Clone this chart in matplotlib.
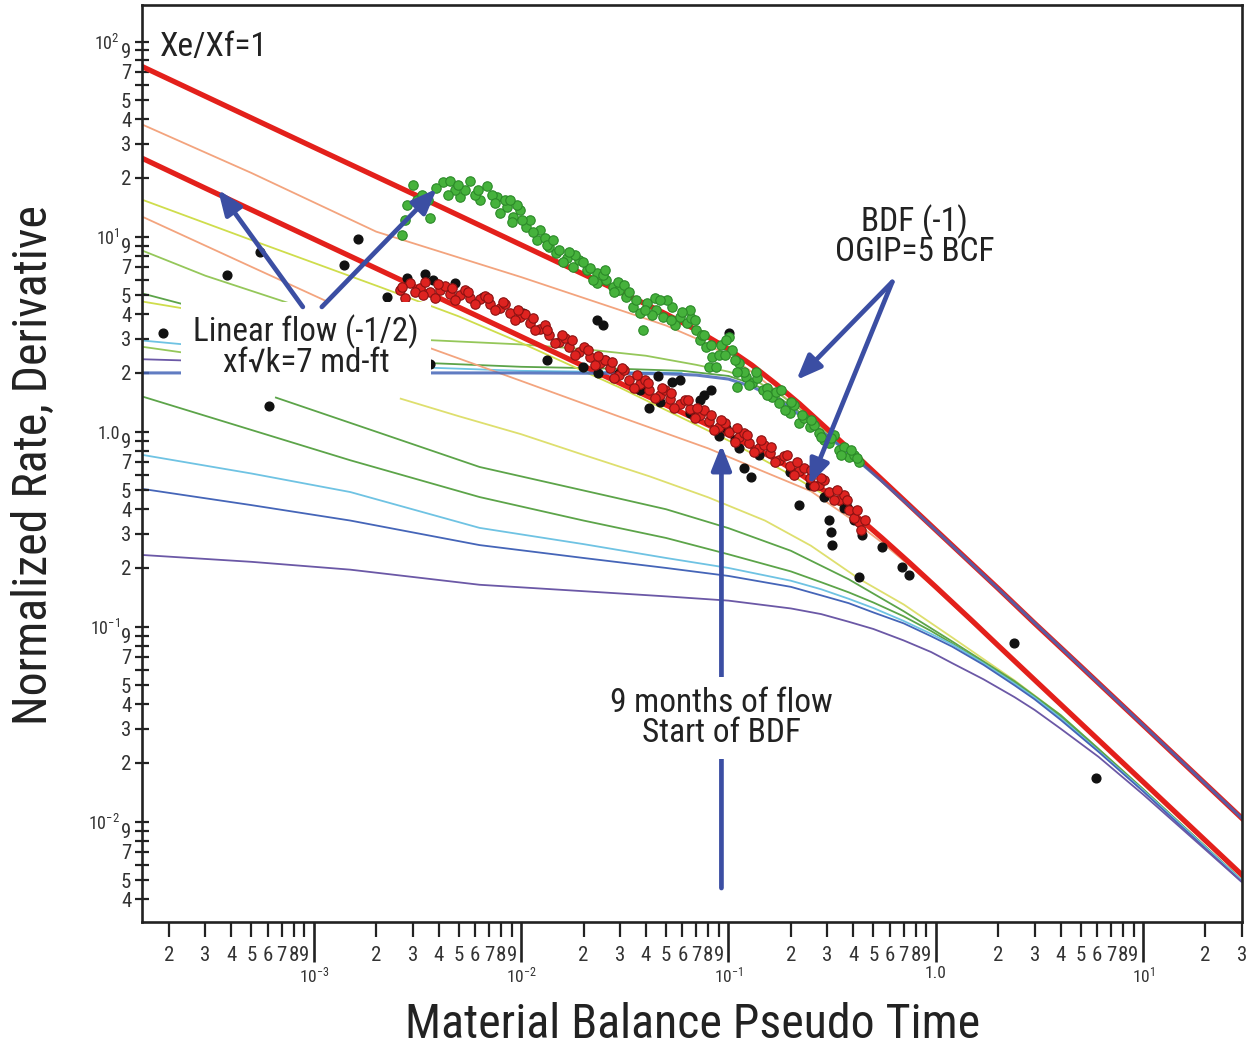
import matplotlib
matplotlib.use("Agg")
import matplotlib.pyplot as plt
from matplotlib import font_manager as fm


def condensed_family():
    """Return (family, stretch) of an installed narrow sans face, if any."""
    prefs = ["Liberation Sans Narrow", "Arial Narrow", "Roboto Condensed",
             "Noto Sans", "Open Sans", "DejaVu Sans", "Lato", "Inter"]
    cands = []
    for f in fm.fontManager.ttflist:
        fn = f.fname.lower()
        if ("narrow" in fn or "condensed" in fn) and "semi" not in fn and "extra" not in fn \
                and "ultra" not in fn and f.style == "normal" and f.weight in (400, "normal", "regular"):
            cands.append(f)
    for p in prefs:
        for f in cands:
            if f.name.startswith(p):
                return f.name, f.stretch
    return None, "normal"


narrow_name, narrow_stretch = condensed_family()
if narrow_name:
    FONT = [narrow_name, "Liberation Sans", "DejaVu Sans"]
    SZ = 1.0
else:
    FONT = ["Liberation Sans", "DejaVu Sans"]
    SZ = 0.84
plt.rcParams["font.family"] = FONT
plt.rcParams["font.stretch"] = narrow_stretch
plt.rcParams["mathtext.default"] = "regular"

# ---------------- axis ranges and tick labels ----------------
x_range = (1.483e-4, 30.0)
y_range = (3.06e-3, 154.0)
x_major = [1e-3, 1e-2, 1e-1, 1.0, 10.0]
x_major_labels = ["$10^{-3}$", "$10^{-2}$", "$10^{-1}$", "1.0", "$10^{1}$"]
y_major = [1e-2, 1e-1, 1.0, 10.0, 100.0]
y_major_labels = ["$10^{-2}$", "$10^{-1}$", "1.0", "$10^{1}$", "$10^{2}$"]
minor_digits = [2, 3, 4, 5, 6, 7, 8, 9]
x_minor_digit_labels = ["2", "3", "4", "5", "6", "7", "8", "9"]
y_minor_digit_labels = ["2", "3", "4", "5", "", "7", "", "9"]

# ---------------- type curves ----------------
t_full = [1.5e-4, 3e-4, 1e-3, 3e-3, 0.01, 0.02, 0.03, 0.05, 0.07, 0.1, 0.13, 0.17,
          0.22, 0.3, 0.4, 0.55, 0.75, 1.0, 1.5, 2.0, 3.0, 5.0, 10.0, 30.0]
q_red_upper = [74.1, 52.4, 28.7, 16.6, 9.07, 6.41, 5.22, 4.01, 3.32, 2.65, 2.19, 1.75,
               1.39, 1.03, 0.779, 0.568, 0.417, 0.313, 0.209, 0.157, 0.104, 0.0626, 0.0313, 0.0104]
q_red_lower = [25.1, 17.7, 9.71, 5.61, 3.07, 2.17, 1.77, 1.37, 1.157, 0.963, 0.837, 0.718,
               0.61, 0.486, 0.382, 0.285, 0.212, 0.16, 0.107, 0.08, 0.0533, 0.032, 0.016, 0.00533]

# upper group (joins the upper BDF line)
t_orange_a = [1.5e-4, 5e-4, 2e-3, 0.01, 0.03, 0.05, 0.07, 0.1, 0.13, 0.17, 0.22, 0.3,
              0.4, 0.55, 0.75, 1.0, 2.0, 5.0, 10.0, 30.0]
q_orange_a = [37.4, 21.2, 10.6, 6.2, 4.2, 3.5, 3.0, 2.45, 2.02, 1.62, 1.31, 0.99,
              0.76, 0.562, 0.415, 0.311, 0.156, 0.0625, 0.0313, 0.0104]
t_yg_flat = [1.5e-4, 3e-4, 8.6e-4, 2e-3, 3.5e-3, 0.01, 0.02, 0.04, 0.07, 0.1, 0.13,
             0.17, 0.22, 0.3, 0.4, 0.55, 0.75, 1.0, 2.0, 5.0, 10.0, 30.0]
q_yg_flat = [8.45, 6.3, 4.36, 3.3, 2.95, 2.8, 2.65, 2.45, 2.2, 2.03, 1.86,
             1.6, 1.31, 0.99, 0.755, 0.56, 0.414, 0.311, 0.156, 0.0625, 0.0313, 0.0104]
t_green_flat = [1.5e-4, 3e-4, 1e-3, 3.5e-3, 0.01, 0.03, 0.06, 0.1, 0.13, 0.17, 0.22,
                0.3, 0.4, 0.55, 0.75, 1.0, 2.0, 5.0, 10.0, 30.0]
q_green_flat = [5.1, 4.2, 3.05, 2.25, 2.15, 2.1, 2.05, 1.93, 1.76, 1.53, 1.26,
                0.96, 0.745, 0.557, 0.414, 0.311, 0.156, 0.0625, 0.0313, 0.0104]
t_cyan_flat = [1.5e-4, 5e-4, 1.5e-3, 3.5e-3, 0.01, 0.03, 0.06]
q_cyan_flat = [2.93, 2.6, 2.3, 2.13, 2.05, 2.02, 2.0]
t_blue_flat = [1.5e-4, 1e-3, 0.01, 0.03, 0.05, 0.07, 0.1, 0.13, 0.17, 0.22, 0.3,
               0.4, 0.55, 0.75, 1.0, 2.0, 5.0, 10.0, 30.0]
q_blue_flat = [2.0, 2.0, 2.0, 1.99, 1.98, 1.95, 1.86, 1.70, 1.48, 1.22, 0.95,
               0.745, 0.557, 0.414, 0.312, 0.1565, 0.0626, 0.0313, 0.0104]
t_stub = [1.5e-4, 3e-4, 6e-4]
q_stub_lightgreen = [2.72, 2.45, 2.2]
q_stub_violet = [2.35, 2.3, 2.22]
q_stub_pale = [4.64, 4.1, 3.6]

# lower group (joins the lower BDF bundle)
t_orange_b = [1.5e-4, 5e-4, 1.5e-3, 3.5e-3, 0.01, 0.03, 0.08, 0.15, 0.25, 0.4, 0.55,
              0.75, 1.0, 2.0, 5.0, 10.0, 30.0]
q_orange_b = [12.6, 7.0, 4.1, 2.72, 1.82, 1.19, 0.82, 0.62, 0.495, 0.35, 0.27,
              0.205, 0.156, 0.079, 0.0318, 0.0159, 0.0053]
t_yg_low = [1.5e-4, 5e-4, 2.08e-3, 5e-3, 0.01, 0.03, 0.1, 0.2, 0.3, 0.4, 0.55,
            0.75, 1.0, 2.0, 5.0, 10.0, 30.0]
q_yg_low = [15.4, 9.6, 5.52, 3.9, 2.85, 1.68, 0.9, 0.6, 0.465, 0.372, 0.28,
            0.209, 0.158, 0.079, 0.0318, 0.0159, 0.0053]
t_yellow_mid = [2.6e-3, 5e-3, 0.01, 0.02, 0.0416, 0.08, 0.15, 0.25, 0.43, 0.7, 1.2,
                2.4, 4.0, 6.1, 10.0, 30.0]
q_yellow_mid = [1.48, 1.2, 0.97, 0.76, 0.59, 0.46, 0.35, 0.26, 0.175, 0.13, 0.088,
                0.053, 0.0352, 0.0236, 0.0147, 0.0050]
t_green_mid = [6.5e-4, 2.08e-3, 6.3e-3, 0.0276, 0.05, 0.1, 0.2, 0.38, 0.7, 1.2, 2.4,
               4.0, 6.1, 10.0, 30.0]
q_green_mid = [1.5, 0.985, 0.659, 0.462, 0.40, 0.32, 0.245, 0.175, 0.12, 0.084, 0.0525,
               0.0352, 0.0236, 0.0147, 0.005]
t_low = [1.5e-4, 5e-4, 1.5e-3, 6.3e-3, 0.02, 0.05, 0.1, 0.2, 0.28, 0.38, 0.5, 0.7,
         0.95, 1.2, 1.7, 2.4, 3.0, 4.0, 6.1, 10.0, 30.0]
q_green_low = [1.51, 1.02, 0.713, 0.462, 0.35, 0.285, 0.235, 0.192, 0.169, 0.15, 0.133, 0.113,
               0.095, 0.082, 0.0652, 0.0515, 0.0435, 0.0345, 0.0233, 0.0146, 0.005]
q_cyan_low = [0.759, 0.61, 0.49, 0.321, 0.265, 0.225, 0.2, 0.172, 0.1555, 0.139, 0.1246, 0.107,
              0.0918, 0.081, 0.0648, 0.051, 0.0432, 0.034, 0.023, 0.0145, 0.005]
q_blue_low = [0.508, 0.42, 0.35, 0.262, 0.225, 0.2, 0.182, 0.16, 0.1447, 0.132, 0.1183, 0.104,
              0.0893, 0.079, 0.0637, 0.05, 0.0424, 0.0333, 0.0228, 0.0143, 0.0049]
q_violet_low = [0.233, 0.215, 0.196, 0.164, 0.152, 0.143, 0.136, 0.124, 0.116, 0.106, 0.0973, 0.085,
                0.0741, 0.065, 0.0537, 0.0435, 0.0374, 0.030, 0.0215, 0.0138, 0.0049]

# ---------------- well data (time, normalized value) ----------------
green_pts = [
    (0.00266, 10.2), (0.00275, 12.2), (0.0030, 18.4), (0.00314, 15.4), (0.00362, 12.5),
    (0.00418, 19.1), (0.00452, 19.3), (0.00505, 16.0), (0.00565, 19.3), (0.00631, 15.4),
    (0.00682, 18.2), (0.00762, 16.0), (0.00788, 13.2), (0.00851, 14.2), (0.0091, 12.6),
    (0.00984, 13.7), (0.0106, 11.2), (0.0119, 9.62), (0.0123, 10.8), (0.0137, 8.85),
    (0.0148, 8.25), (0.0166, 7.78), (0.0177, 6.99), (0.0191, 7.60), (0.0207, 6.75),
    (0.0231, 6.52), (0.0231, 5.79), (0.0258, 6.0), (0.0276, 5.52), (0.0322, 4.91),
    (0.0345, 4.36), (0.0373, 4.06), (0.0385, 3.32), (0.0403, 4.57), (0.0449, 4.21),
    (0.0481, 3.87), (0.0537, 4.36), (0.0581, 3.87), (0.0628, 3.61), (0.0701, 3.32),
    (0.0725, 2.95), (0.0783, 2.72), (0.0837, 2.42), (0.081, 2.15), (0.0875, 2.15),
    (0.101, 3.06), (0.1045, 2.62), (0.1105, 1.69), (0.113, 2.25), (0.122, 1.91),
    (0.1305, 1.78), (0.146, 1.64), (0.163, 1.51), (0.176, 1.40), (0.197, 1.25),
    (0.220, 1.11), (0.246, 1.06), (0.2745, 0.985), (0.307, 0.875), (0.343, 0.806),
    (0.383, 0.742), (0.428, 0.699),
    (0.00332, 16.4), (0.00387, 17.8), (0.00478, 17.4), (0.00534, 17.4), (0.00597, 16.4),
    (0.00721, 16.4), (0.00833, 15.4), (0.00951, 14.5), (0.011, 12.2), (0.013, 9.85),
    (0.0153, 8.55), (0.0159, 7.42), (0.0214, 6.91), (0.0247, 6.36), (0.0298, 5.33),
    (0.0292, 5.86), (0.036, 4.74), (0.0426, 3.97), (0.0508, 4.74), (0.0555, 3.53),
    (0.0663, 3.83), (0.0749, 3.13), (0.0925, 2.78), (0.0978, 2.95), (0.107, 2.33),
    (0.1195, 2.02), (0.138, 1.89), (0.154, 1.68), (0.170, 1.60), (0.188, 1.29),
    (0.208, 1.37), (0.2325, 1.18), (0.260, 1.08), (0.290, 0.907), (0.324, 0.962),
    (0.362, 0.835), (0.405, 0.759), (0.0649, 4.21), (0.044, 4.85), (0.0315, 5.65),
    (0.0181, 8.06), (0.0088, 15.4), (0.0905, 2.47),
    (0.00281, 14.5), (0.00354, 15.4), (0.00442, 16.4), (0.00494, 18.4), (0.00617, 17.4),
    (0.00745, 14.9), (0.0090, 11.9), (0.0101, 12.2), (0.0114, 10.6), (0.0133, 9.07),
    (0.0142, 9.62), (0.0171, 8.35), (0.0198, 7.42), (0.0221, 6.0), (0.0253, 6.75),
    (0.0282, 5.21), (0.0333, 5.21), (0.0394, 4.21), (0.0465, 4.74), (0.0531, 3.74),
    (0.060, 4.11), (0.0686, 3.74), (0.0766, 3.13), (0.0828, 2.78), (0.0957, 2.47),
    (0.1105, 2.02), (0.126, 1.74), (0.136, 2.02), (0.154, 1.54), (0.180, 1.64),
    (0.201, 1.42), (0.227, 1.22), (0.251, 1.15), (0.281, 0.939), (0.314, 0.928),
    (0.350, 0.759), (0.392, 0.806), (0.418, 0.733),
]

red_pts = [
    (0.0026, 5.33), (0.0029, 5.79), (0.00324, 5.46), (0.00362, 5.21), (0.00405, 5.33),
    (0.00452, 5.09), (0.00505, 5.03), (0.00565, 4.85), (0.00631, 4.79), (0.00705, 4.52),
    (0.00788, 4.31), (0.0088, 4.06), (0.00984, 3.88), (0.011, 3.61), (0.0123, 3.36),
    (0.0137, 3.13), (0.0153, 2.89), (0.0171, 2.72), (0.0191, 2.56), (0.0214, 2.42),
    (0.0239, 2.25), (0.0267, 2.12), (0.0298, 1.95), (0.0333, 1.84), (0.0373, 1.76),
    (0.0416, 1.64), (0.0465, 1.54), (0.052, 1.47), (0.0581, 1.39), (0.0649, 1.31),
    (0.0725, 1.22), (0.081, 1.13), (0.0905, 1.06), (0.101, 0.996), (0.113, 0.939),
    (0.126, 0.875), (0.141, 0.825), (0.158, 0.778), (0.176, 0.716), (0.197, 0.667),
    (0.220, 0.629), (0.246, 0.579), (0.2745, 0.533), (0.307, 0.491), (0.343, 0.446),
    (0.383, 0.397), (0.428, 0.344),
    (0.00275, 4.85), (0.00307, 5.21), (0.00343, 5.86), (0.00383, 4.85), (0.00428, 5.59),
    (0.00478, 4.74), (0.00534, 5.33), (0.00597, 4.52), (0.00667, 4.97), (0.00745, 4.21),
    (0.00833, 4.52), (0.0093, 3.74), (0.0104, 4.02), (0.0116, 3.32), (0.013, 3.53),
    (0.0145, 2.85), (0.0162, 3.02), (0.0181, 2.47), (0.0202, 2.72), (0.0226, 2.20),
    (0.0253, 2.33), (0.0282, 1.89), (0.0315, 2.07), (0.0352, 1.68), (0.0394, 1.84),
    (0.044, 1.49), (0.0492, 1.64), (0.0549, 1.32), (0.0614, 1.45), (0.0686, 1.18),
    (0.0766, 1.29), (0.0856, 1.02), (0.0957, 1.11), (0.107, 0.885), (0.1195, 0.985),
    (0.133, 0.787), (0.149, 0.855), (0.167, 0.699), (0.186, 0.751), (0.208, 0.600),
    (0.2325, 0.651), (0.260, 0.527), (0.290, 0.565), (0.324, 0.446), (0.362, 0.474),
    (0.405, 0.361), (0.437, 0.313),
    (0.00266, 5.52), (0.00335, 5.03), (0.00396, 5.72), (0.00462, 5.46), (0.00552, 5.21),
    (0.0069, 4.85), (0.00814, 4.63), (0.00962, 4.21), (0.0114, 3.83), (0.0134, 3.32),
    (0.0157, 3.13), (0.0175, 2.95), (0.0209, 2.62), (0.0234, 2.45), (0.0273, 2.28),
    (0.0305, 2.12), (0.0364, 1.95), (0.0407, 1.78), (0.0476, 1.68), (0.0531, 1.58),
    (0.0635, 1.45), (0.0709, 1.32), (0.0828, 1.22), (0.0925, 1.15), (0.1105, 1.045),
    (0.1235, 0.962), (0.144, 0.907), (0.161, 0.835), (0.1925, 0.759), (0.215, 0.699),
    (0.251, 0.636), (0.281, 0.579), (0.335, 0.502), (0.3745, 0.446), (0.418, 0.397),
    (0.457, 0.3525),
]

black_pts = [
    (1.87e-4, 3.21), (3.81e-4, 6.36), (5.49e-4, 8.35), (6.07e-4, 1.36), (1.40e-3, 7.16),
    (1.63e-3, 9.73), (1.29e-3, 4.36), (2.25e-3, 4.91), (2.81e-3, 6.14), (3.43e-3, 6.44),
    (3.75e-3, 6.0), (4.78e-3, 5.79), (6.52e-3, 4.91), (0.0102, 4.06), (0.0133, 2.33),
    (0.0198, 2.15), (0.0231, 3.74), (0.0247, 3.53), (0.0253, 2.33), (0.0234, 2.0),
    (0.0385, 1.78), (0.0416, 1.32), (0.0455, 1.93), (0.0537, 1.80), (0.0581, 1.84),
    (0.0725, 1.45), (0.0766, 1.54), (0.0828, 1.64), (0.101, 3.21), (0.0978, 1.04),
    (0.113, 0.825), (0.1195, 0.651), (0.129, 0.586), (0.220, 0.421), (0.307, 0.3525),
    (0.314, 0.306), (0.317, 0.262), (0.3745, 0.411), (0.442, 0.295), (0.552, 0.256),
    (0.689, 0.202), (0.745, 0.184), (0.428, 0.180), (0.00362, 2.22), (2.39, 0.0825),
    (5.94, 0.0167),
    (0.0298, 2.0), (0.0373, 1.64), (0.0465, 1.42), (0.0649, 1.247), (0.0905, 0.950),
    (0.107, 0.907), (0.141, 0.759), (0.197, 0.621), (0.246, 0.533), (0.290, 0.4625),
    (0.362, 0.406), (0.405, 0.3525),
]

# ---------------- colours ----------------
RED = "#e3201b"
ORANGE = "#f3a47e"
YELLOWGREEN = "#cfdd4c"
YELLOW = "#dedf6e"
LIGHTGREEN = "#95c75a"
GREEN = "#5ca449"
CYAN = "#6fc3e3"
BLUE = "#4565b8"
VIOLET = "#6b58a6"
ARROW = "#3b4ea3"
INK = "#222222"

fig = plt.figure(figsize=(12.49, 10.53), dpi=100)
ax = fig.add_axes([142 / 1249, 131 / 1053, 1100 / 1249, 917 / 1053])
ax.set_xscale("log")
ax.set_yscale("log")
ax.set_xlim(*x_range)
ax.set_ylim(*y_range)

thin = 1.3
thin_curves = [
    (t_stub, q_stub_pale, YELLOWGREEN),
    (t_stub, q_stub_lightgreen, LIGHTGREEN),
    (t_stub, q_stub_violet, VIOLET),
    (t_orange_a, q_orange_a, ORANGE),
    (t_yg_flat, q_yg_flat, LIGHTGREEN),
    (t_green_flat, q_green_flat, GREEN),
    (t_cyan_flat, q_cyan_flat, CYAN),
    (t_orange_b, q_orange_b, ORANGE),
    (t_yg_low, q_yg_low, YELLOWGREEN),
    (t_yellow_mid, q_yellow_mid, YELLOW),
    (t_green_mid, q_green_mid, GREEN),
    (t_low, q_green_low, GREEN),
    (t_low, q_cyan_low, CYAN),
    (t_low, q_blue_low, BLUE),
    (t_low, q_violet_low, VIOLET),
]
for t, q, c in thin_curves:
    ax.plot(t, q, color=c, lw=thin, zorder=1.5, solid_capstyle="butt")

ax.plot(t_full, q_red_upper, color=RED, lw=3.8, zorder=2)
ax.plot(t_full, q_red_lower, color=RED, lw=3.8, zorder=2)
ax.plot(t_blue_flat, q_blue_flat, color=BLUE, lw=2.2, alpha=0.85, zorder=2.2)

# data clouds
bt, bq = zip(*black_pts)
ax.plot(bt, bq, ls="none", marker="o", ms=6.3, mfc="#111111", mec="#111111", zorder=3)
gt, gq = zip(*green_pts)
ax.plot(gt, gq, ls="none", marker="o", ms=6.8, mfc="#46b23c", mec="#2b8a28", mew=0.8, zorder=4)
rt, rq = zip(*red_pts)
ax.plot(rt, rq, ls="none", marker="o", ms=6.8, mfc="#de2320", mec="#8a1212", mew=0.8, zorder=4)

# ---------------- axes styling ----------------
for s in ax.spines.values():
    s.set_linewidth(1.9)
    s.set_color(INK)

x_minor = []
x_minor_lab = []
for e in range(-4, 2):
    for k, lab in zip(minor_digits, x_minor_digit_labels):
        v = k * 10.0 ** e
        if x_range[0] <= v <= x_range[1] * 1.001:
            x_minor.append(v)
            x_minor_lab.append(lab)
y_minor = []
y_minor_lab = []
for e in range(-3, 3):
    for k, lab in zip(minor_digits, y_minor_digit_labels):
        v = k * 10.0 ** e
        if y_range[0] <= v <= y_range[1]:
            y_minor.append(v)
            y_minor_lab.append(lab)

ax.set_xticks(x_major, x_major_labels)
ax.set_xticks(x_minor, x_minor_lab, minor=True)
ax.set_yticks(y_major, y_major_labels)
ax.set_yticks(y_minor, y_minor_lab, minor=True)

ax.tick_params(axis="x", which="major", direction="out", length=29, width=1.9,
               color=INK, pad=2.5, labelsize=12.5, labelcolor="#333333")
ax.tick_params(axis="x", which="minor", direction="out", length=10.5, width=1.6,
               color=INK, pad=6.5, labelsize=15, labelcolor="#333333")
ax.tick_params(axis="y", which="major", direction="inout", length=9.5, width=1.6,
               color=INK, pad=11, labelsize=13, labelcolor="#333333")
ax.tick_params(axis="y", which="minor", direction="inout", length=9.5, width=1.6,
               color=INK, pad=3, labelsize=15, labelcolor="#333333")

# ---------------- annotations ----------------
ax.text(0.0164, 0.9542, "Xe/Xf=1", transform=ax.transAxes, ha="left", va="center",
        fontsize=24 * SZ, color=INK)

arrow_style = dict(arrowstyle="-|>,head_length=0.75,head_width=0.3", mutation_scale=20,
                   lw=3.4, color=ARROW, shrinkA=0, shrinkB=0)

ax.annotate("", xy=(3.45e-4, 17.4), xytext=(8.85e-4, 4.36), arrowprops=arrow_style, zorder=6)
ax.annotate("", xy=(3.92e-3, 17.6), xytext=(1.093e-3, 4.36), arrowprops=arrow_style, zorder=6)
ax.text(9.15e-4, 2.72, "Linear flow (-1/2)\nxf\u221ak=7 md-ft", ha="center", va="center",
        fontsize=23.8 * SZ, color=INK, linespacing=0.9, zorder=5,
        bbox=dict(boxstyle="square,pad=0.36", facecolor="white", edgecolor="none"))

ax.text(0.788, 10.1, "BDF (-1)\nOGIP=5 BCF", ha="center", va="center", fontsize=24 * SZ,
        color=INK, linespacing=0.88, zorder=5)
ax.annotate("", xy=(0.2127, 1.84), xytext=(0.617, 5.86), arrowprops=arrow_style, zorder=6)
ax.annotate("", xy=(0.2457, 0.533), xytext=(0.617, 5.86), arrowprops=arrow_style, zorder=6)

ax.annotate("", xy=(0.0925, 0.855), xytext=(0.0925, 0.00457), arrowprops=arrow_style, zorder=6)
ax.text(0.0925, 0.034, "9 months of flow\nStart of BDF", ha="center", va="center",
        fontsize=24 * SZ, color=INK, linespacing=0.9, zorder=7,
        bbox=dict(boxstyle="square,pad=0.3", facecolor="white", edgecolor="none"))

fig.text(34 / 1249, 1 - 465 / 1053, "Normalized Rate, Derivative", rotation=90,
         ha="center", va="center", fontsize=34.5 * SZ, color=INK)
fig.text(693 / 1249, 1 - 1025 / 1053, "Material Balance Pseudo Time", ha="center",
         va="center", fontsize=34.5 * SZ, color=INK)

fig.savefig("out.png", dpi=100)
